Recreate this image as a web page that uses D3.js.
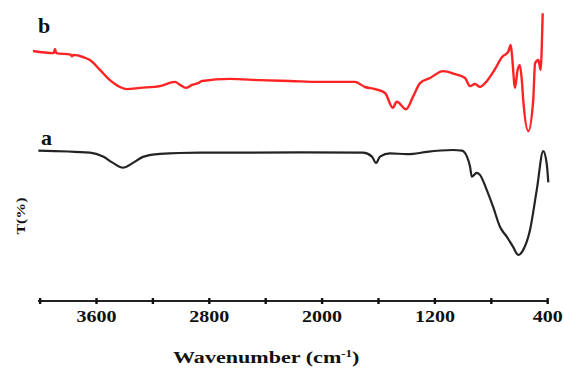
<!DOCTYPE html>
<html lang="en">
    <head>
        <meta charset="utf-8">
        <title>FTIR spectra</title>
        <script src="https://d3js.org/d3.v7.min.js"></script>
        <style>
            body { margin: 0; background: #fff; }
            text { font-family: "Liberation Serif", "DejaVu Serif", serif; font-weight: bold; fill: #111; }
        </style>
    </head>
    <body>
        <script type="text/javascript">
            const RED = 'rgba(255, 35, 35, 1.0)';
            const DARK = 'rgba(35, 35, 35, 1.0)';

            var width = 563,
                height = 374;

            // spectrum b (red), wavenumber / transmittance (arb.)
            var waveB = [4047, 3900, 3891, 3882, 3780, 3770, 3760, 3692, 3643, 3572, 3501, 3430, 3380, 3288, 3146,
                3040, 3004, 2962, 2919, 2877, 2848, 2650, 2437, 2224, 2011, 1763, 1692, 1621, 1550, 1495, 1467,
                1401, 1352, 1302, 1231, 1139, 1054, 983, 947, 912, 876, 841, 770, 720, 677, 659, 650, 628, 610,
                594, 580, 570, 534, 499, 486, 463, 446, 439, 432];
            var transB = [83.0, 82.3, 83.7, 82.3, 81.8, 81.2, 81.7, 81.0, 80.0, 76.7, 73.3, 71.0, 70.3, 70.7, 71.3,
                72.7, 71.7, 70.7, 71.7, 72.3, 73.0, 73.7, 73.3, 73.0, 72.7, 72.7, 71.0, 70.3, 69.0, 64.1, 66.1,
                63.6, 67.7, 72.3, 74.0, 76.3, 75.3, 74.0, 71.3, 72.0, 71.0, 72.3, 77.0, 81.0, 82.7, 85.0, 81.7, 70.7, 76.7,
                78.3, 73.3, 66.7, 56.3, 66.7, 78.9, 80.0, 76.7, 83.3, 95.6];

            // spectrum a (black)
            var waveA = [4009, 3643, 3550, 3479, 3409, 3338, 3267, 3146, 2862, 2153, 1706, 1643, 1614, 1586, 1515,
                1394, 1352, 1253, 1069, 1005, 969, 947, 935, 900, 877, 829, 784, 735, 687, 643, 605, 570, 522,
                474, 428, 404, 392];
            var transA = [49.8, 49.1, 47.8, 45.7, 44.1, 45.7, 47.7, 48.7, 49.1, 49.2, 49.1, 47.8, 45.7, 47.8, 48.9,
                48.6, 48.7, 49.4, 50.0, 49.8, 47.8, 44.4, 41.1, 42.4, 41.7, 36.7, 31.1, 24.4, 21.1, 17.8, 15.0, 16.7, 23.3,
                36.7, 49.6, 45.6, 39.2];

            var tickValues = [4000, 3600, 3200, 2800, 2400, 2000, 1600, 1200, 800, 400];
            var tickLabels = ['3600', '2800', '2000', '1200', '400'];

            var x = d3.scaleLinear().domain([4000, 400]).range([39.6, 547.2]);
            var y = d3.scaleLinear().domain([0, 100]).range([300, 0]);

            var svg = d3.select("body").append("svg")
                .attr("width", width)
                .attr("height", height);

            var line = d3.line()
                .x(d => x(d[0]))
                .y(d => y(d[1]))
                .curve(d3.curveMonotoneX);

            var dataB = waveB.map((w, i) => [w, transB[i]]).reverse();
            var dataA = waveA.map((w, i) => [w, transA[i]]).reverse();

            svg.append("path")
                .attr("d", line(dataB))
                .attr("fill", "none")
                .attr("stroke", RED)
                .attr("stroke-width", 2.4)
                .attr("stroke-linejoin", "round");

            svg.append("path")
                .attr("d", line(dataA))
                .attr("fill", "none")
                .attr("stroke", DARK)
                .attr("stroke-width", 2.2)
                .attr("stroke-linejoin", "round");

            // x axis
            var axis = svg.append("g")
                .attr("transform", "translate(0,301)")
                .call(d3.axisBottom(x).tickValues(tickValues).tickSizeOuter(0).tickSizeInner(3).tickFormat(""));

            axis.select(".domain")
                .attr("stroke", "#222")
                .attr("stroke-width", 2.2)
                .attr("d", "M" + (x(4000) - 1.5) + ",0H" + x(400));

            axis.selectAll(".tick line")
                .attr("y1", -3)
                .attr("y2", 3)
                .attr("stroke", "#111")
                .attr("stroke-width", 2.4);

            axis.selectAll(".tick")
                .filter(d => tickLabels.indexOf(String(d)) >= 0)
                .append("text")
                .attr("y", 21)
                .attr("text-anchor", "middle")
                .attr("font-size", 17)
                .attr("textLength", d => String(d).length * 10)
                .attr("lengthAdjust", "spacingAndGlyphs")
                .attr("fill", "#111")
                .text(d => d);

            // axis title, stretched to the width of the original
            var title = svg.append("text")
                .attr("transform", "translate(173,363) scale(1.3,1)")
                .attr("font-size", 17);
            title.append("tspan").text("Wavenumber (cm");
            title.append("tspan").attr("font-size", 10).attr("dy", -6).text("-1");
            title.append("tspan").attr("dy", 6).text(")");

            svg.append("text")
                .attr("transform", "translate(25,216) rotate(-90)")
                .attr("text-anchor", "middle")
                .attr("font-size", 12)
                .attr("textLength", 37)
                .attr("lengthAdjust", "spacingAndGlyphs")
                .text("T(%)");

            // series labels
            svg.append("text")
                .attr("x", 38)
                .attr("y", 33)
                .attr("font-size", 22)
                .text("b");

            svg.append("text")
                .attr("x", 41)
                .attr("y", 145)
                .attr("font-size", 22)
                .text("a");
        </script>
    </body>
</html>
